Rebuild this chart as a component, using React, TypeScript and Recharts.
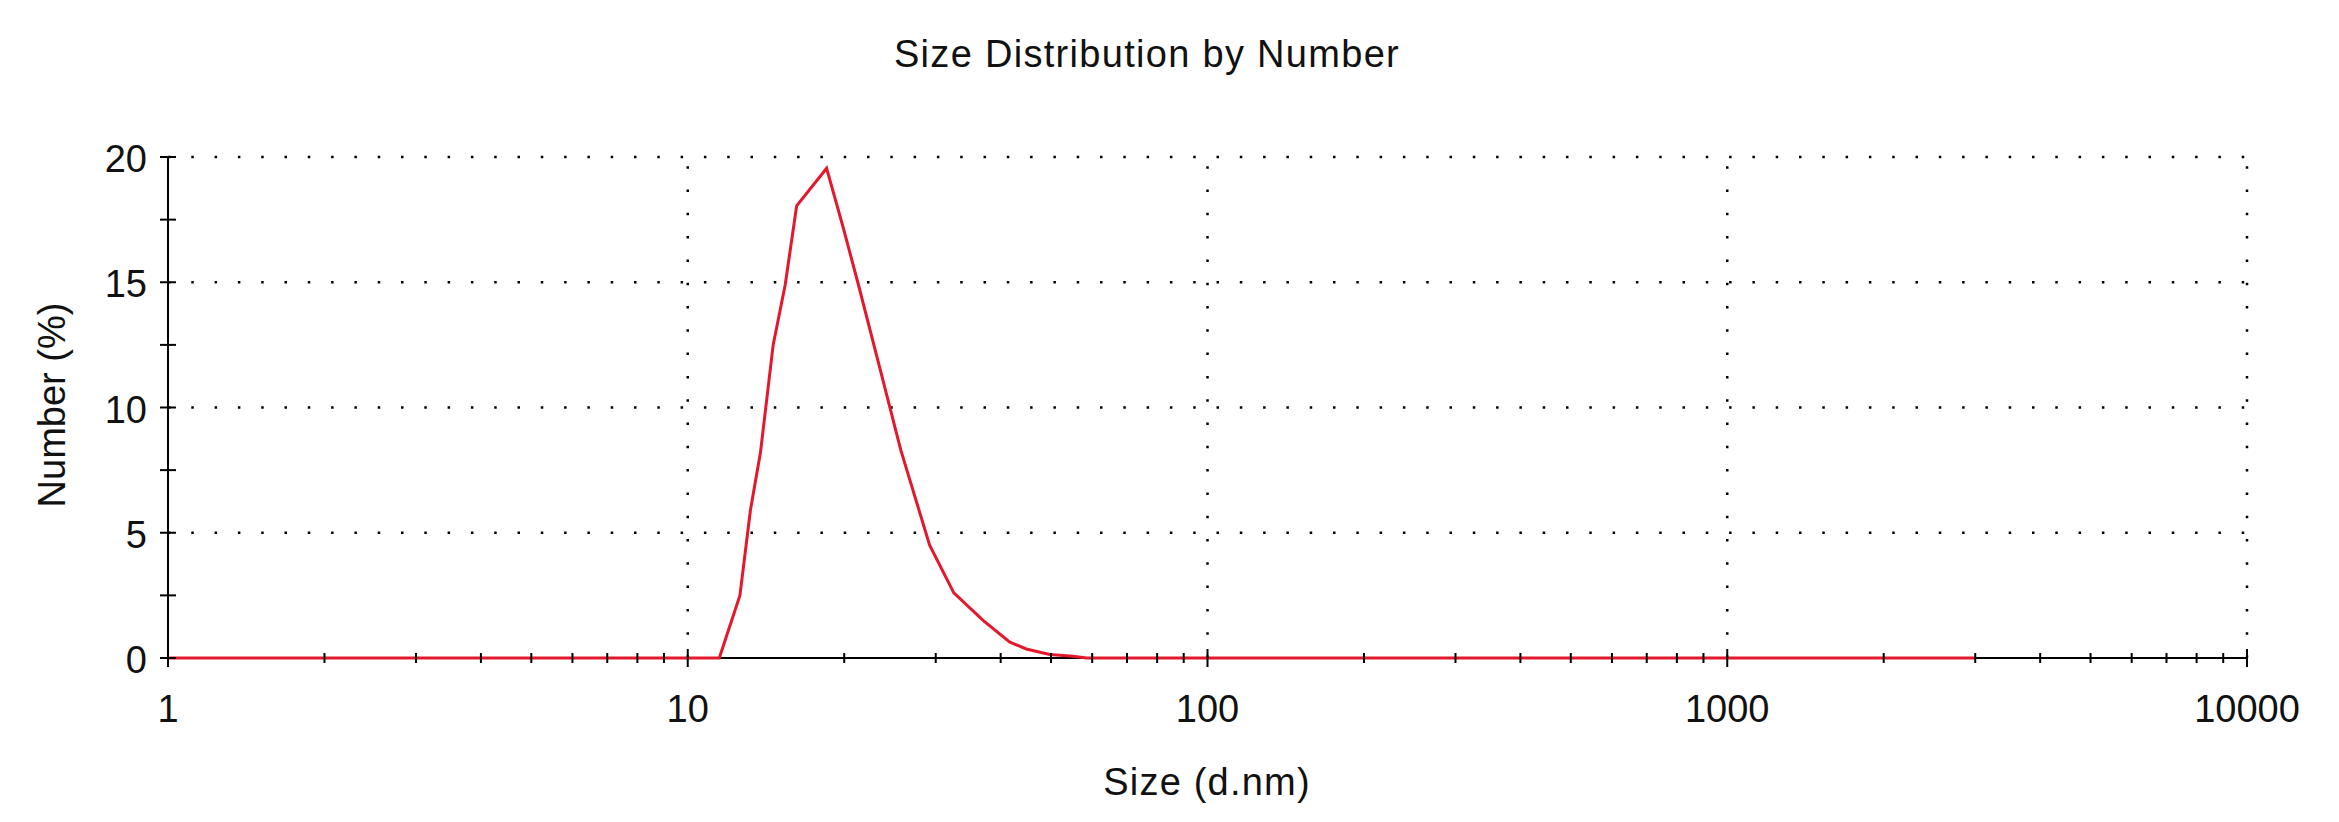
import React from 'react';
import { LineChart, Line, XAxis, YAxis, ReferenceLine } from 'recharts';

// Size distribution by number (DLS)
const sizes = [1, 11.5, 12.6, 13.2, 13.8, 14.6, 15.4, 16.2, 18.5, 19.9, 21.3, 23.4, 25.7, 29.2, 32.5, 37.0, 41.6, 44.8, 49.7, 55.1, 58.5, 3000];
const numberPct = [0, 0, 2.5, 5.9, 8.2, 12.5, 14.9, 18.05, 19.55, 17.2, 14.9, 11.6, 8.3, 4.5, 2.6, 1.5, 0.64, 0.36, 0.14, 0.07, 0, 0];

const xTicks = [
  1, 2, 3, 4, 5, 6, 7, 8, 9,
  10, 20, 30, 40, 50, 60, 70, 80, 90,
  100, 200, 300, 400, 500, 600, 700, 800, 900,
  1000, 2000, 3000, 4000, 5000, 6000, 7000, 8000, 9000,
  10000,
];
const xMajor = [1, 10, 100, 1000, 10000];
const xLabels = ['1', '10', '100', '1000', '10000'];

const yTicks = [0, 2.5, 5, 7.5, 10, 12.5, 15, 17.5, 20];
const yMajor = [0, 5, 10, 15, 20];
const yLabels = ['0', '5', '10', '15', '20'];

const data = sizes.map((s, i) => ({ size: s, pct: numberPct[i] }));

const FONT = "'Liberation Sans', Arial, sans-serif";
const W = 2323;
const H = 806;

const XTick = (props: any) => {
  const { x, y, payload } = props;
  const idx = xMajor.indexOf(payload.value);
  const h = idx >= 0 ? 9 : 5;
  return (
    <g>
      <line x1={x} x2={x} y1={y - h} y2={y + h} stroke="#000" strokeWidth={2} />
      {idx >= 0 && (
        <text x={x} y={y + 64} textAnchor="middle" fontFamily={FONT} fontSize={38} fill="#111">
          {xLabels[idx]}
        </text>
      )}
    </g>
  );
};

const YTick = (props: any) => {
  const { x, y, payload } = props;
  const idx = yMajor.indexOf(payload.value);
  return (
    <g>
      <line x1={x - 8} x2={x + 8} y1={y} y2={y} stroke="#000" strokeWidth={2} />
      {idx >= 0 && (
        <text x={x - 21} y={y + 15} textAnchor="end" fontFamily={FONT} fontSize={38} fill="#111">
          {yLabels[idx]}
        </text>
      )}
    </g>
  );
};

export default function App() {
  return (
    <div style={{ position: 'relative', width: W, height: H, background: '#fff' }}>
      <LineChart
        width={W}
        height={H}
        data={data}
        margin={{ top: 149, right: 84, bottom: 0, left: 0 }}
      >
        {/* dotted grid + dotted top/right frame */}
        {[5, 10, 15, 20].map((v) => (
          <ReferenceLine key={'h' + v} y={v} stroke="#000" strokeWidth={2.5} strokeDasharray="2.5 20.8" />
        ))}
        {[10, 100, 1000, 10000].map((v) => (
          <ReferenceLine key={'v' + v} x={v} stroke="#000" strokeWidth={2.5} strokeDasharray="2.5 20.8" />
        ))}
        <XAxis
          dataKey="size"
          type="number"
          scale="log"
          domain={[1, 10000]}
          ticks={xTicks}
          interval={0}
          height={156}
          tickSize={0}
          tickMargin={0}
          tickLine={false}
          axisLine={{ stroke: '#000', strokeWidth: 2 }}
          tick={<XTick />}
        />
        <YAxis
          type="number"
          domain={[0, 20]}
          ticks={yTicks}
          interval={0}
          width={160}
          tickSize={0}
          tickMargin={0}
          tickLine={false}
          axisLine={{ stroke: '#000', strokeWidth: 2 }}
          tick={<YTick />}
        />
        <Line
          type="linear"
          dataKey="pct"
          stroke="#e4182c"
          strokeWidth={3}
          dot={false}
          activeDot={false}
          zIndex={600}
          isAnimationActive={false}
        />
      </LineChart>
      <svg
        width={W}
        height={H}
        style={{ position: 'absolute', left: 0, top: 0, pointerEvents: 'none' }}
      >
        <text x={1139} y={59} textAnchor="middle" fontFamily={FONT} fontSize={38} letterSpacing={1.3} fill="#111">
          Size Distribution by Number
        </text>
        <text x={1199} y={787} textAnchor="middle" fontFamily={FONT} fontSize={38} letterSpacing={1.2} fill="#111">
          Size (d.nm)
        </text>
        <text
          x={57}
          y={397}
          transform="rotate(-90 57 397)"
          textAnchor="middle"
          fontFamily={FONT}
          fontSize={38}
          fill="#111"
        >
          Number (%)
        </text>
      </svg>
    </div>
  );
}
